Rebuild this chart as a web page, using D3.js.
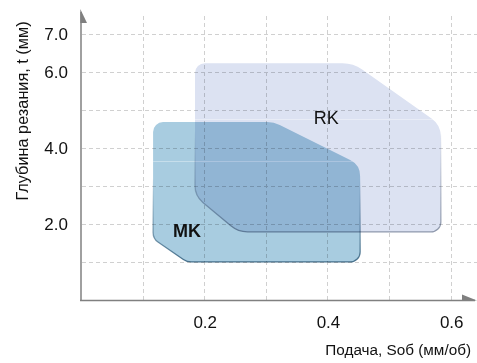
<!DOCTYPE html>
<html><head><meta charset="utf-8">
<script src="https://cdn.jsdelivr.net/npm/d3@7"></script>
<style>
html,body{margin:0;padding:0;background:#fff;}
svg{display:block;font-family:"Liberation Sans",Arial,Helvetica,sans-serif;}
</style></head>
<body>
<svg id="chart" width="477" height="363"></svg>
<script>
// ---- data ----
const xTicks = [0.2, 0.4, 0.6];
const yTicks = [2.0, 4.0, 6.0, 7.0];
const xGrid = [0.1, 0.2, 0.3, 0.4, 0.5, 0.6];
const yGrid = [1, 2, 3, 4, 5, 6, 7];
const regionNames = ["RK", "MK"];
// outline of each region: feed (mm/rev) and depth of cut (mm)
const rkFeed  = [0.185, 0.442, 0.584, 0.584, 0.255, 0.185];
const rkDepth = [6.24, 6.24, 4.61, 1.80, 1.80, 2.75];
const mkFeed  = [0.117, 0.313, 0.453, 0.453, 0.172, 0.117];
const mkDepth = [4.69, 4.69, 3.56, 1.01, 1.01, 1.62];
const labelFeed  = [0.398, 0.172];
const labelDepth = [4.63, 1.67];
const xTitle = "Подача, Soб (мм/об)";
const yTitle = "Глубина резания, t (мм)";

// ---- styles ----
const rkRadii = [10, 34, 22, 10, 26, 22];
const mkRadii = [10, 28, 18, 10, 14, 12];
const glossFrac = [0.33, 0.28];

const svg = d3.select("#chart");
const x = d3.scaleLinear().domain([0, 0.6]).range([81, 450.7]);
const y = d3.scaleLinear().domain([0, 7]).range([300.3, 34.3]);

const defs = svg.append("defs");
function strokeGrad(id, color) {
  const g = defs.append("linearGradient").attr("id", id)
    .attr("x1", 0).attr("y1", 0).attr("x2", 0).attr("y2", 1);
  g.append("stop").attr("offset", "0.4").attr("stop-color", color).attr("stop-opacity", 0);
  g.append("stop").attr("offset", "1").attr("stop-color", color).attr("stop-opacity", 1);
}
strokeGrad("gRK", "#8f99ad");
strokeGrad("gMK", "#46708c");

// grid
const grid = svg.append("g").attr("stroke", "#d0d0d0").attr("stroke-width", 1)
  .attr("stroke-dasharray", "4,3").attr("fill", "none");
grid.selectAll(".v").data(xGrid).join("line")
  .attr("x1", d => Math.round(x(d)) + 0.5).attr("x2", d => Math.round(x(d)) + 0.5)
  .attr("y1", 300).attr("y2", 15);
grid.selectAll(".h").data(yGrid).join("line")
  .attr("y1", d => Math.round(y(d)) + 0.5).attr("y2", d => Math.round(y(d)) + 0.5)
  .attr("x1", 82).attr("x2", 477);

function roundedPath(px, py, radii) {
  const n = px.length;
  const p = d3.path();
  const mx = (px[n - 1] + px[0]) / 2, my = (py[n - 1] + py[0]) / 2;
  p.moveTo(mx, my);
  for (let i = 0; i < n; i++) {
    const j = (i + 1) % n;
    p.arcTo(px[i], py[i], px[j], py[j], radii[i]);
  }
  p.closePath();
  return p.toString();
}

const shapes = [
  {name: "RK", feed: rkFeed, depth: rkDepth, radii: rkRadii, fill: "#dce2f2", grad: "url(#gRK)", gloss: glossFrac[0]},
  {name: "MK", feed: mkFeed, depth: mkDepth, radii: mkRadii, fill: "#a8cce0", grad: "url(#gMK)", gloss: glossFrac[1]}
];
shapes.forEach((s, i) => {
  s.d = roundedPath(s.feed.map(x), s.depth.map(y), s.radii);
  defs.append("clipPath").attr("id", "clip" + i).append("path").attr("d", s.d);
});
const sg = svg.append("g");
shapes.forEach((s, i) => {
  const g = sg.append("g").style("mix-blend-mode", "multiply");
  g.append("path").attr("d", s.d).attr("fill", s.fill);
  const top = y(d3.max(s.depth)), bot = y(d3.min(s.depth));
  const gy = Math.round(top + (bot - top) * s.gloss) + 0.5;
  g.append("line").attr("clip-path", `url(#clip${i})`)
    .attr("x1", 0).attr("x2", 477).attr("y1", gy).attr("y2", gy)
    .attr("stroke", "#ffffff").attr("stroke-opacity", 0.35).attr("stroke-width", 1);
  g.append("path").attr("d", s.d).attr("fill", "none")
    .attr("stroke", s.grad).attr("stroke-width", 1.3);
});

// region labels
svg.selectAll(".lbl").data(regionNames).join("text")
  .attr("x", (d, i) => x(labelFeed[i])).attr("y", (d, i) => y(labelDepth[i]))
  .attr("text-anchor", "middle")
  .attr("font-size", 18)
  .attr("font-weight", (d, i) => i === 1 ? "bold" : "normal")
  .attr("fill", "#111")
  .text(d => d);

// axes
const axCol = "#808080";
svg.append("line").attr("x1", 81).attr("x2", 81).attr("y1", 301).attr("y2", 12)
  .attr("stroke", axCol).attr("stroke-width", 1.5);
svg.append("line").attr("x1", 80).attr("x2", 475).attr("y1", 300.5).attr("y2", 300.5)
  .attr("stroke", axCol).attr("stroke-width", 1.5);
svg.append("path").attr("d", "M80.3,9 L87,23 L80.3,23 Z").attr("fill", axCol);
svg.append("path").attr("d", "M477,300.5 L462,294.5 L462,300.5 Z").attr("fill", axCol);

// tick labels
svg.selectAll(".yt").data(yTicks).join("text")
  .attr("x", 68).attr("y", d => y(d) + 6)
  .attr("text-anchor", "end").attr("font-size", 17).attr("fill", "#111")
  .text(d => d3.format(".1f")(d));
svg.selectAll(".xt").data(xTicks).join("text")
  .attr("x", d => x(d) + 1).attr("y", 328)
  .attr("text-anchor", "middle").attr("font-size", 17).attr("fill", "#111")
  .text(d => d3.format(".1f")(d));

// titles
svg.append("text").attr("x", 471).attr("y", 355).attr("text-anchor", "end")
  .attr("font-size", 15.3).attr("fill", "#111").text(xTitle);
svg.append("text").attr("transform", "translate(28,111) rotate(-90)")
  .attr("text-anchor", "middle").attr("font-size", 16.3).attr("fill", "#111").text(yTitle);
</script>
</body></html>
